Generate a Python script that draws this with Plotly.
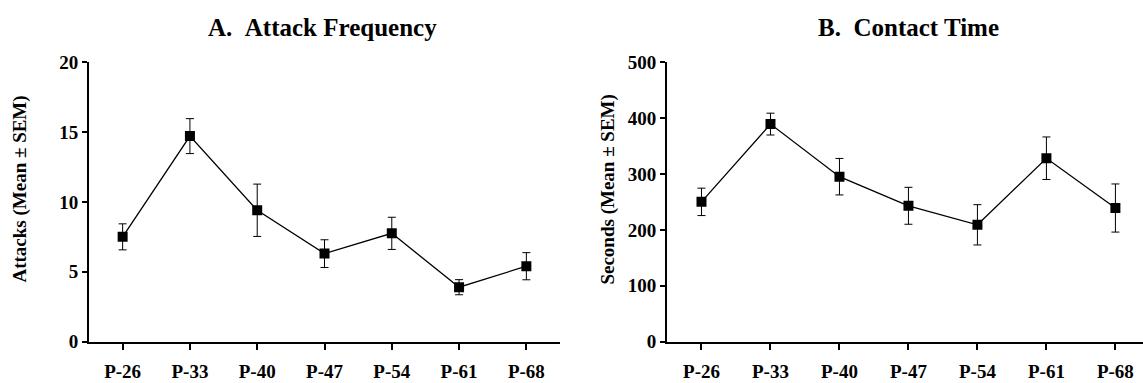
import plotly.graph_objects as go

categories = ["P-26", "P-33", "P-40", "P-47", "P-54", "P-61", "P-68"]

attacks_mean = [7.5, 14.7, 9.4, 6.3, 7.75, 3.9, 5.4]
attacks_sem = [0.93, 1.25, 1.87, 0.99, 1.15, 0.54, 0.97]

contact_mean = [250, 389, 295, 243, 209, 328, 239]
contact_sem = [24.5, 19.5, 32.6, 33, 36, 38, 43]

title_a = "A.\u00a0\u00a0Attack Frequency"
title_b = "B.\u00a0\u00a0Contact Time"
ytitle_a = "Attacks (Mean \u00b1 SEM)"
ytitle_b = "Seconds (Mean \u00b1 SEM)"

FONT = "Liberation Serif"
W, H = 1143, 383

x_idx = list(range(len(categories)))

fig = go.Figure()

def add_series(means, sems, xa, ya):
    fig.add_trace(go.Scatter(
        x=x_idx, y=means, mode="lines+markers",
        xaxis=xa, yaxis=ya,
        line=dict(color="black", width=1.3),
        marker=dict(symbol="square", size=10, color="black"),
        error_y=dict(type="data", array=sems, visible=True,
                     color="black", thickness=1, width=4),
        showlegend=False, hoverinfo="skip",
    ))

add_series(attacks_mean, attacks_sem, "x", "y")
add_series(contact_mean, contact_sem, "x2", "y2")

ydom = [1 - 351 / H, 1 - 55 / H]

axis_common = dict(
    showline=True, linecolor="black", linewidth=2,
    ticks="outside", tickcolor="black", tickwidth=2,
    showgrid=False, zeroline=False,
    tickfont=dict(family=FONT, size=19, color="black", weight="bold"),
)

fig.update_layout(
    width=W, height=H,
    margin=dict(l=0, r=0, t=0, b=0),
    paper_bgcolor="white", plot_bgcolor="white",
    xaxis=dict(domain=[89 / W, 560 / W], range=[-0.5, 6.5],
               tickmode="array", tickvals=x_idx, ticktext=categories,
               ticklen=6, ticklabelstandoff=5, anchor="y", **axis_common),
    yaxis=dict(domain=ydom, range=[0, 20], tickvals=[0, 5, 10, 15, 20],
               ticklen=5, anchor="x", **axis_common),
    xaxis2=dict(domain=[667 / W, 1.0], range=[-0.5, 6.4],
                tickmode="array", tickvals=x_idx, ticktext=categories,
                ticklen=6, ticklabelstandoff=5, anchor="y2", **axis_common),
    yaxis2=dict(domain=ydom, range=[0, 500], tickvals=[0, 100, 200, 300, 400, 500],
                ticklen=5, anchor="x2", **axis_common),
)

def ann(text, x, y, size, angle=0):
    fig.add_annotation(
        text=text, x=x / W, y=1 - y / H, xref="paper", yref="paper",
        showarrow=False, textangle=angle, xanchor="center", yanchor="middle",
        font=dict(family=FONT, size=size, color="black", weight="bold"),
    )

ann(title_a, 322, 19, 25)
ann(title_b, 908, 19, 25)
ann(ytitle_a, 20, 190, 19, -90)
ann(ytitle_b, 608, 190, 19, -90)

fig.write_html("out.html")
